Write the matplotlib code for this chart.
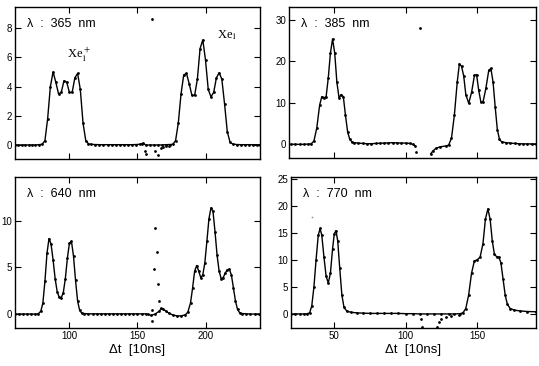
import numpy as np
import matplotlib
matplotlib.use('Agg')
import matplotlib.pyplot as plt

nan = float('nan')

# ---- 365 nm (top left) ----
x_365 = [60, 62.5, 65, 67.5, 70, 72.5, 75, 77.5,
         80, 82, 84, 86, 88, 90, 92, 94, 96, 98, 100, 102, 104, 106, 108, 110, 112, 114, 116,
         119, 122, 125, 128, 131, 134, 137, 140, 143, 146, 149, 152,
         154, 156, 159, 162, 165, 168, 171, 174,
         176, 178, 180, 182, 184, 186, 188, 190, 192, 194, 196, 198, 200, 202, 204, 206, 208,
         210, 212, 214, 216, 218, 220,
         223, 226, 229, 232, 235, 238, 240]
y_365 = [0, 0, 0, 0, 0, 0, 0, 0.02,
         0.05, 0.3, 1.8, 4.0, 5.0, 4.3, 3.5, 3.6, 4.4, 4.3, 3.6, 3.6, 4.6, 4.9, 3.8, 1.5, 0.3, 0.08, 0.04,
         0.03, 0.02, 0.02, 0.02, 0.02, 0.02, 0.02, 0.02, 0.02, 0.02, 0.03, 0.05,
         0.12, 0.0, 0, 0, 0, 0, 0.02, 0.03,
         0.05, 0.3, 1.5, 3.5, 4.8, 4.9, 4.2, 3.4, 3.4, 4.5, 6.6, 7.2, 5.8, 3.8, 3.3, 3.6, 4.6,
         4.95, 4.5, 2.8, 0.9, 0.2, 0.06,
         0.03, 0.02, 0.02, 0.02, 0.02, 0.02, 0.02]
nx_365 = [153, 155.5, 156.5, 163, 165, 167, 169, 171, 173, 160.5]
ny_365 = [0.1, -0.4, -0.6, -0.4, -0.7, -0.2, -0.15, -0.1, -0.05, 8.6]

# ---- 385 nm (top right) ----
x_385 = [20, 23, 26, 29, 32, 34, 36, 38, 40,
         41.5, 43, 44.5, 46, 47.5, 49, 50.5, 52, 53.5, 55, 56.5, 58, 59.5, 61, 62.5, 64,
         67, 70, 73, 76, 79, 82, 85, 88, 91, 94, 97, 100, 103, 105, 106.5, nan,
         117.5, 119, 121, 124, 128, 130,
         132, 134, 136, 137.5, 139, 140.5, 142, 144, 146, 148, 149.5, 151, 152.5, 154, 156, 158,
         159.5, 161, 162.5, 164, 165.5, 167,
         170, 173, 176, 179, 182, 185, 188, 191]
y_385 = [0, 0, 0, 0, 0.05, 0.1, 0.8, 4.0, 9.5,
         11.5, 11.2, 11.5, 16, 22, 25.4, 22, 15, 11.2, 12.0, 11.5, 7, 3, 1.2, 0.6, 0.4,
         0.3, 0.2, 0.15, 0.15, 0.2, 0.25, 0.3, 0.35, 0.4, 0.35, 0.3, 0.3, 0.2, 0.0, -0.3, nan,
         -2.3, -1.6, -1.0, -0.6, -0.4, -0.2,
         1.5, 7, 15, 19.4, 18.8, 16.5, 12, 9.9, 12.5, 16.6, 16.8, 13, 10.2, 10.2, 13.5, 17.8,
         18.3, 15, 9, 3.5, 1.2, 0.6,
         0.4, 0.3, 0.2, 0.15, 0.1, 0.1, 0.1, 0.1]
nx_385 = [107, 109.7]
ny_385 = [-1.8, 28.0]

# ---- 640 nm (bottom left) ----
x_640 = [60, 63, 66, 69, 72, 75, 77, 79, 80.5, 82, 83.5, 85, 86.5, 88, 89.5, 91, 92.5, 94,
         95.5, 97, 98.5, 100, 101.5, 103, 104.5, 106, 107.5, 109, 111,
         114, 117, 120, 123, 126, 129, 132, 135, 138, 141, 144, 147, 150, 153, 156,
         158, 160, 163, 166, 167.5, 169, 171, 173, 176, 179, 182, 185,
         187, 189, 190.5, 192, 193.5, 195, 196.5, 198, 199.5, 201, 202.5, 204, 205.5, 207,
         208.5, 210, 211.5, 213, 214.5, 216, 217.5, 219, 220.5, 222, 223.5, 225,
         227, 230, 233, 236, 239]
y_640 = [0, 0, 0, 0, 0, 0, 0.02, 0.3, 1.2, 3.5, 6.5, 8.1, 7.5, 5.8, 3.8, 2.4, 1.8, 1.75,
         2.3, 3.8, 6.0, 7.6, 7.8, 6.2, 3.6, 1.4, 0.4, 0.1, 0.05,
         0.02, 0.02, 0.02, 0.02, 0.02, 0.02, 0.02, 0.02, 0.02, 0.02, 0.02, 0.02, 0.02, 0.02, 0.02,
         -0.05, -0.15, 0.0, 0.3, 0.6, 0.5, 0.3, 0.1, -0.1, -0.2, -0.2, -0.1,
         0.2, 1.2, 2.8, 4.6, 5.2, 4.6, 3.9, 4.2, 5.5, 7.8, 10.2, 11.4, 11.0, 8.8,
         6.3, 4.6, 3.8, 3.9, 4.4, 4.75, 4.8, 4.2, 2.8, 1.4, 0.5, 0.15,
         0.05, 0.02, 0, 0, 0]
nx_640 = [160.5, 161, 162.2, 163, 164.2, 165, 166]
ny_640 = [-0.7, 0.4, 4.8, 9.2, 6.7, 3.2, 1.4]

# ---- 770 nm (bottom right) ----
x_770 = [20, 23, 26, 29, 31, 33, 34.5, 36, 37.5, 39, 40.3, 41.5, 43, 44.5, 46, 47.5, 49,
         50.2, 51.4, 52.6, 54, 55.5, 57, 59, 62, 66, 70, 75, 80, 85, 90, 95, 100, 105,
         110, 115, 120, 125, 130, 134, 138, 140, 142, 144, 146, 148, 150, 152, 154,
         155.7, 157.4, 159, 160.5, 162, 163.5, 165, 166.5, 168, 169.5, 171, 173, 176,
         180, 185, 191]
y_770 = [0, 0, 0, 0, 0.02, 0.2, 1.5, 5, 10, 14.5, 15.8, 14.5, 10.5, 7, 5.7, 7.5, 12,
         14.8, 15.4, 13.5, 8.5, 3.5, 1.2, 0.5, 0.3, 0.2, 0.15, 0.1, 0.1, 0.1, 0.1, 0.1, 0.05, 0.05,
         0, 0, 0, 0, 0, 0, 0.05, 0.2, 1.0, 3.5, 7.5, 9.8, 10.0, 10.5, 13,
         17.5, 19.4, 17.5, 13.5, 11, 10.6, 10.5, 9.5, 6.5, 3.5, 1.8, 1.0, 0.7,
         0.55, 0.45, 0.4]
nx_770 = [110.4, 111.6, 122, 123.5, 125, 128, 132, 137]
ny_770 = [-1.0, -2.4, -2.4, -1.5, -1.0, -0.6, -0.4, -0.2]
faint_x_770 = [34.5]
faint_y_770 = [18]

panels = [
    ('365', x_365, y_365, nx_365, ny_365, (60, 240), (-0.96, 9.45), [0, 2, 4, 6, 8],
     [0.0278, 0.5656, 0.4545, 0.4153], False),
    ('385', x_385, y_385, nx_385, ny_385, (18.6, 191), (-3.3, 33.1), [0, 10, 20, 30],
     [0.5362, 0.5683, 0.4583, 0.4126], False),
    ('640', x_640, y_640, nx_640, ny_640, (60, 240), (-1.5, 14.7), [0, 5, 10],
     [0.0278, 0.1038, 0.4545, 0.4126], True),
    ('770', x_770, y_770, nx_770, ny_770, (20, 191), (-2.6, 25.3), [0, 5, 10, 15, 20, 25],
     [0.5399, 0.1038, 0.4545, 0.4126], True),
]

plt.rcParams['font.family'] = ['Liberation Sans', 'DejaVu Sans']
fig = plt.figure(figsize=(5.39, 3.66), dpi=100)

for wl, x, y, nx, ny, xl, yl, yt, pos, bottom in panels:
    ax = fig.add_axes(pos)
    ax.plot(x, y, '-', color='k', lw=1.0, marker='o', ms=2.0, mew=0)
    ax.plot(nx, ny, 'o', color='k', ms=2.0, mew=0)
    if wl == '770':
        ax.plot(faint_x_770, faint_y_770, 'o', color='0.6', ms=1.3, mew=0)
    ax.set_xlim(*xl)
    ax.set_ylim(*yl)
    ax.set_yticks(yt)
    if xl[0] > 50:
        ax.set_xticks([100, 150, 200])
    else:
        ax.set_xticks([50, 100, 150])
    ax.tick_params(direction='in', top=True, right=True, length=4, width=0.8,
                   labelsize=7, pad=2)
    if bottom:
        ax.set_xlabel('\u0394t  [10ns]', fontsize=9.5, labelpad=2)
    else:
        ax.tick_params(labelbottom=False)
    for s in ax.spines.values():
        s.set_linewidth(1.0)
    ax.text(0.05, 0.89, '\u03bb  :  ' + wl + '  nm', transform=ax.transAxes,
            fontsize=9, va='center', ha='left')
    if wl == '365':
        ax.text(107, 6.2, r'Xe$_1^+$', fontsize=9, ha='center', va='center',
                family='Liberation Serif', math_fontfamily='stix')
        ax.text(216, 7.5, r'Xe$_1$', fontsize=9, ha='center', va='center',
                family='Liberation Serif', math_fontfamily='stix')

fig.savefig('out.png', dpi=100)
